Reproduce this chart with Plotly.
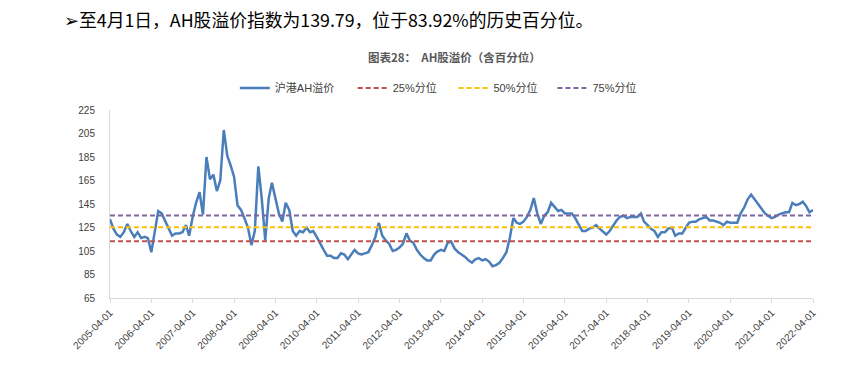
import pandas as pd
import plotly.graph_objects as go

# Monthly readings of the AH premium index (沪港AH溢价), 2005-04 .. 2022-04
ah_2005 = [132, 124, 119, 117, 121, 128, 122, 117, 121]
ah_2006 = [116, 117, 116, 104, 122, 139, 137, 131, 125, 118, 120, 120]
ah_2007 = [121, 127, 118, 134, 146, 155, 136, 185, 166, 170, 156, 165]
ah_2008 = [208, 186, 178, 168, 144, 140, 133, 125, 110, 122, 177, 150]
ah_2009 = [114, 150, 163, 150, 137, 130, 146, 140, 122, 118, 122, 121]
ah_2010 = [125, 121, 122, 117, 111, 106, 101, 101, 99, 99, 103, 102]
ah_2011 = [98, 102, 106, 103, 102, 103, 104, 110, 117, 129, 118, 114]
ah_2012 = [111, 105, 106, 108, 111, 120, 114, 112, 106, 102, 99, 97]
ah_2013 = [97, 102, 104.5, 106, 105, 112, 113, 107, 104, 102, 100, 97]
ah_2014 = [95, 98, 99, 97, 98, 96, 92, 93, 95, 99, 104, 116]
ah_2015 = [133, 129, 128, 130, 134, 140, 150, 137, 128, 135, 138, 146]
ah_2016 = [142, 139, 140, 137, 137, 137, 133, 128, 122, 122, 124, 125]
ah_2017 = [127, 124, 122, 119, 122, 127, 131, 134, 135, 133, 134, 134]
ah_2018 = [134, 137, 130, 127, 124, 122, 117, 121, 121, 124, 125, 118]
ah_2019 = [120, 120, 124, 129, 130, 130, 132, 133, 134, 131, 131, 130]
ah_2020 = [129, 127, 130, 129, 129, 129, 137, 142, 149, 153, 149, 145]
ah_2021 = [141, 137, 135, 133, 134, 136, 137, 138, 138, 146, 144, 145]
ah_2022 = [147, 143, 138, 139.79]

ah_values = (ah_2005 + ah_2006 + ah_2007 + ah_2008 + ah_2009 + ah_2010 + ah_2011
             + ah_2012 + ah_2013 + ah_2014 + ah_2015 + ah_2016 + ah_2017
             + ah_2018 + ah_2019 + ah_2020 + ah_2021 + ah_2022)

dates = pd.date_range("2005-04-01", periods=len(ah_values), freq="MS")

p25 = 113.3
p50 = 125.2
p75 = 135.2

x_ticks = [f"{y}-04-01" for y in range(2005, 2023)]
y_ticks = [65, 85, 105, 125, 145, 165, 185, 205, 225]

series_name = "沪港AH溢价"
p_names = ["25%分位", "50%分位", "75%分位"]
headline = "➢至4月1日，AH股溢价指数为139.79，位于83.92%的历史百分位。"
title = "图表28：  AH股溢价（含百分位）"

FONT = "Liberation Sans, Noto Sans CJK SC, sans-serif"

fig = go.Figure()
fig.add_trace(go.Scatter(x=dates, y=ah_values, mode="lines", name=series_name,
                         line=dict(color="#4A7EBB", width=2.5), legend="legend"))
legend_ids = ["legend2", "legend3", "legend4"]
for name, val, col, lg in zip(p_names, [p25, p50, p75],
                              ["#C0504D", "#FFC000", "#8064A2"], legend_ids):
    fig.add_trace(go.Scatter(x=dates, y=[val] * len(dates), mode="lines", name=name,
                             line=dict(color=col, width=2, dash="5px,3px"), legend=lg))

def legend_box(xpos):
    return dict(orientation="h", x=xpos, xanchor="left", y=1.117, yanchor="middle",
                font=dict(size=11, color="#404040"), bgcolor="rgba(0,0,0,0)",
                itemwidth=30)

fig.update_layout(
    width=844, height=366,
    margin=dict(l=110, r=31, t=110, b=68),
    paper_bgcolor="white", plot_bgcolor="white",
    font=dict(family=FONT, size=10, color="#404040"),
    showlegend=True,
    legend=legend_box(0.1776),
    legend2=legend_box(0.3452),
    legend3=legend_box(0.4886),
    legend4=legend_box(0.6293),
    annotations=[
        dict(text=headline, xref="paper", yref="paper", x=-0.068, y=1.485,
             xanchor="left", yanchor="middle", showarrow=False,
             font=dict(size=17.8, color="#000000", family="Noto Sans CJK SC, sans-serif")),
        dict(text="<b>" + title + "</b>", xref="paper", yref="paper", x=0.49, y=1.28,
             xanchor="center", yanchor="middle", showarrow=False,
             font=dict(size=11.5, color="#595959", family="Noto Sans CJK SC, sans-serif")),
    ],
)
fig.update_xaxes(
    type="date", range=["2005-04-01", "2022-04-01"],
    tickvals=x_ticks, ticktext=x_ticks, tickangle=-45,
    showgrid=False, showline=True, linecolor="#D9D9D9", linewidth=1,
    ticks="outside", ticklen=4, tickcolor="#D9D9D9",
    tickfont=dict(size=10, color="#404040"),
)
fig.update_yaxes(
    range=[65, 225], tickvals=y_ticks,
    showgrid=False, showline=True, linecolor="#D9D9D9", linewidth=1,
    ticks="", ticklabelstandoff=12, zeroline=False,
    tickfont=dict(size=10, color="#404040"),
)

fig.write_html("out.html", config={"displayModeBar": False},
               post_script="document.body.style.margin='0';")
